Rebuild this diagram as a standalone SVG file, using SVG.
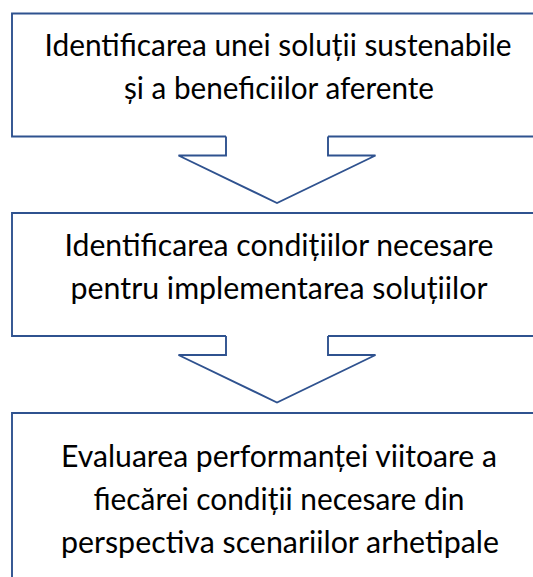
<svg xmlns="http://www.w3.org/2000/svg" width="533" height="577" viewBox="0 0 533 577">
<style>
.box{fill:#ffffff;stroke:none}
.edge{fill:none;stroke:#2F528F;stroke-width:1.9;stroke-linejoin:miter}
.lbl{font-family:Lato,"Open Sans","Liberation Sans",sans-serif;font-size:31px;fill:#000000;text-anchor:middle}
</style>
<rect x="0" y="0" width="533" height="577" fill="#ffffff"/>
<g id="node1">
<rect class="box" x="12" y="13.5" width="533" height="123"/>
<path class="edge" d="M226,136.5 H12 V13.5 H545 V136.5 H328"/>
<text class="lbl" x="278" y="56" textLength="467" lengthAdjust="spacingAndGlyphs">Identificarea unei soluții sustenabile</text>
<text class="lbl" x="279" y="99" textLength="310" lengthAdjust="spacingAndGlyphs">și a beneficiilor aferente</text>
</g>
<g id="node2">
<rect class="box" x="12" y="213" width="533" height="123"/>
<path class="edge" d="M226,336 H12 V213 H545 V336 H328"/>
<text class="lbl" x="279" y="256" textLength="429" lengthAdjust="spacingAndGlyphs">Identificarea condițiilor necesare</text>
<text class="lbl" x="279" y="299" textLength="417" lengthAdjust="spacingAndGlyphs">pentru implementarea soluțiilor</text>
</g>
<g id="node3">
<rect class="box" x="12" y="413" width="533" height="180"/>
<path class="edge" d="M12,595 V413 H545"/>
<text class="lbl" x="279" y="467" textLength="436" lengthAdjust="spacingAndGlyphs">Evaluarea performanței viitoare a</text>
<text class="lbl" x="279" y="510" textLength="371" lengthAdjust="spacingAndGlyphs">fiecărei condiții necesare din</text>
<text class="lbl" x="280" y="553" textLength="438" lengthAdjust="spacingAndGlyphs">perspectiva scenariilor arhetipale</text>
</g>
<g id="connectors">
<path class="edge" d="M226,136.5 V155.5 H178.5 L277,203 L375.5,155.5 H328 V136.5"/>
<path class="edge" d="M226,336 V355 H178.5 L277,402.5 L375.5,355 H328 V336"/>
</g>
</svg>
